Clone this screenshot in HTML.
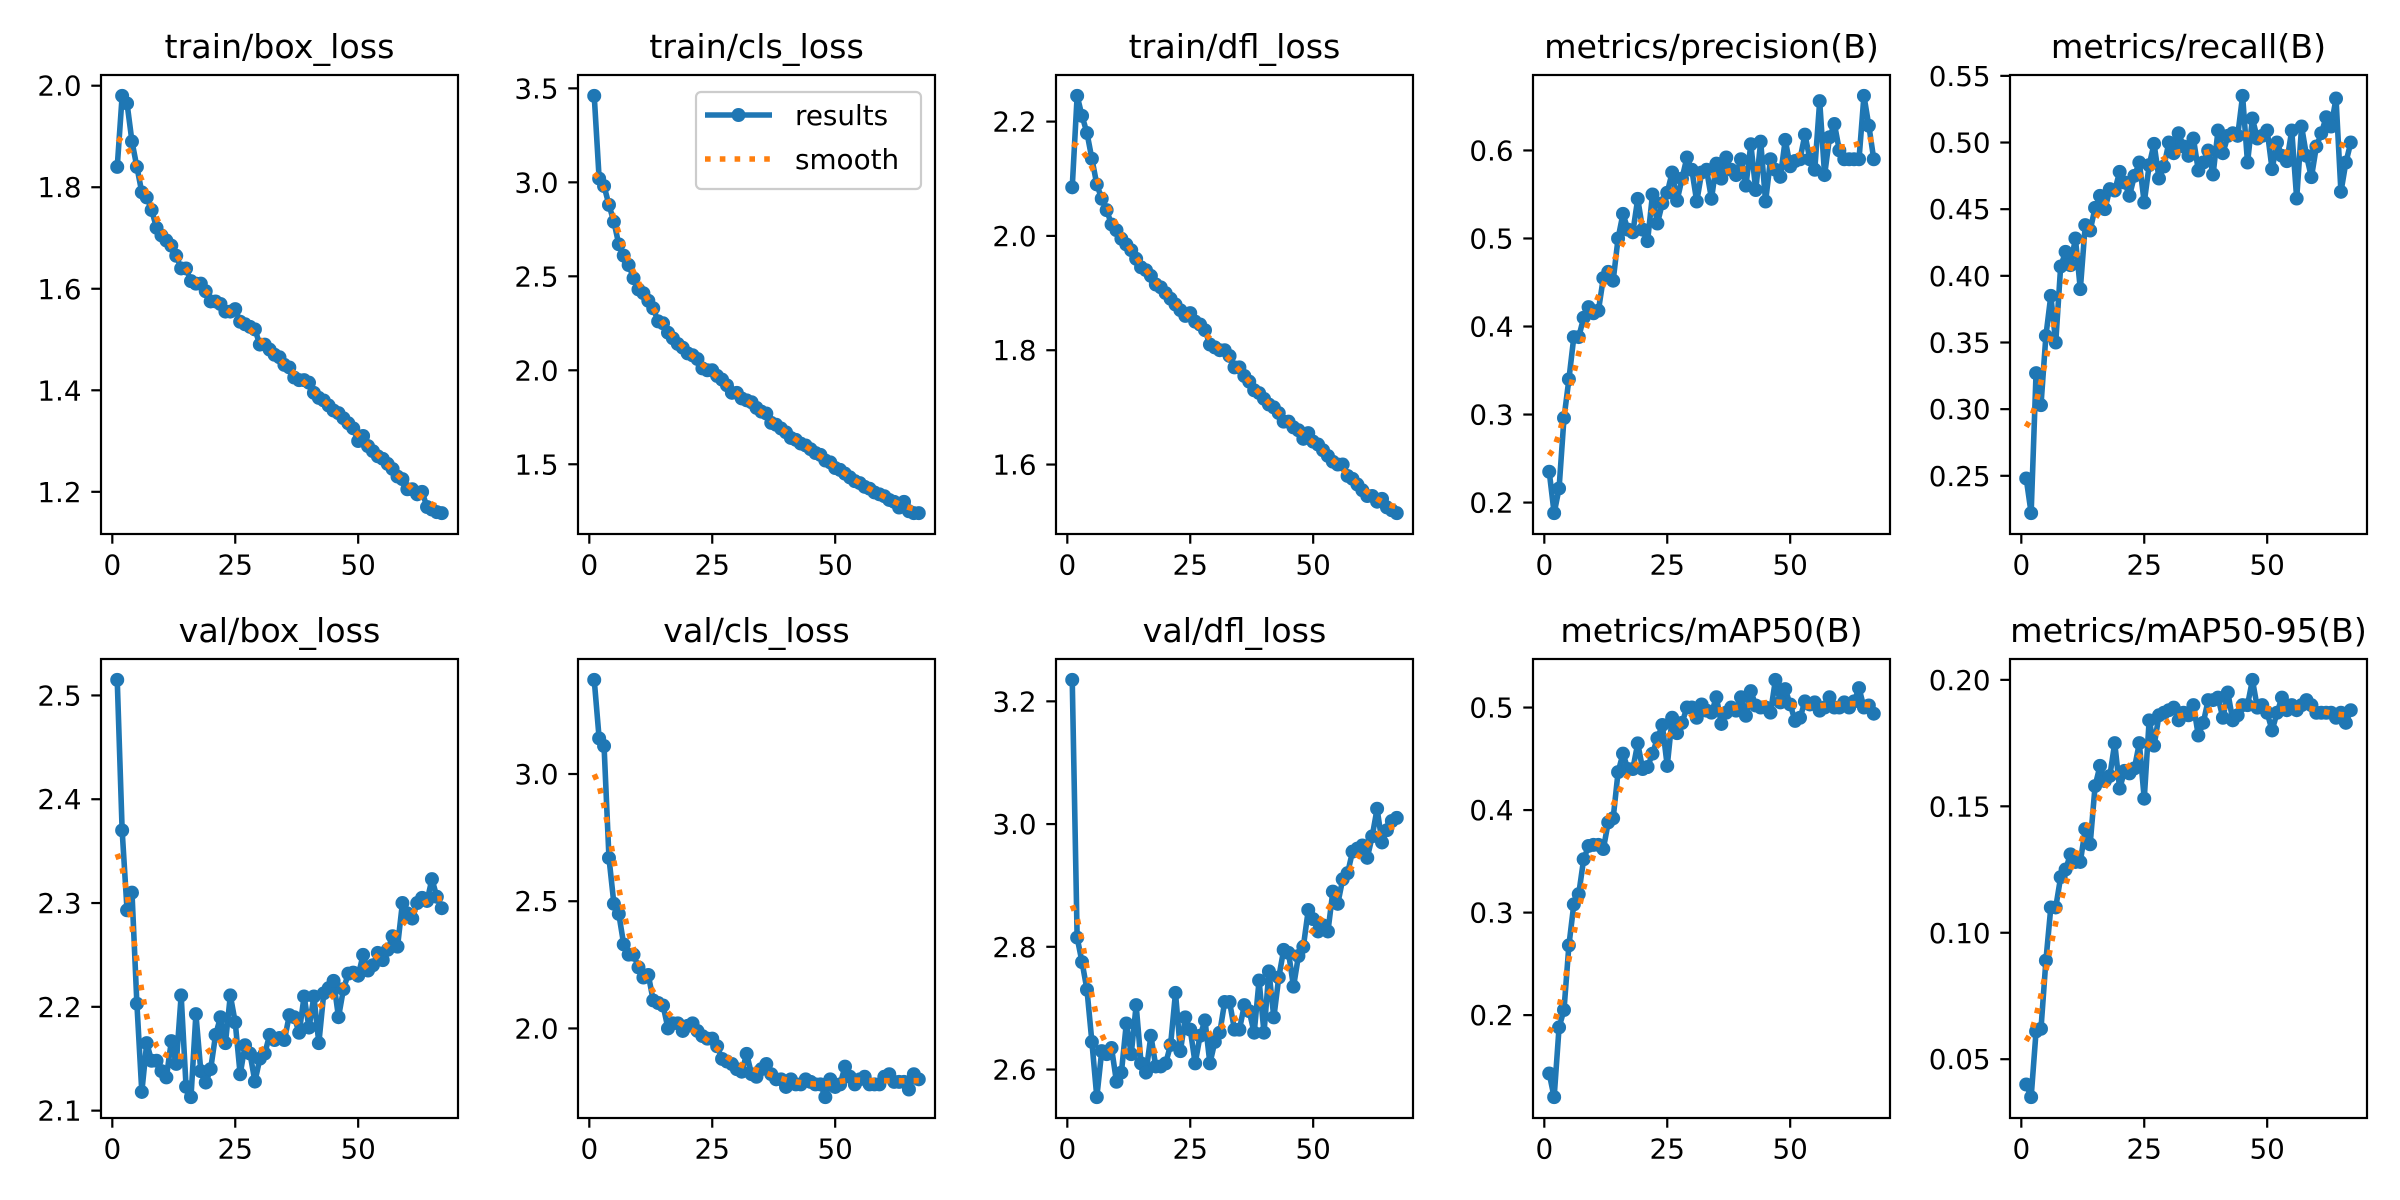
<!DOCTYPE html>
<html><head><meta charset="utf-8">
<style>
html,body{margin:0;padding:0;background:#fff;}
svg{display:block;}
text{font-family:"DejaVu Sans","Liberation Sans",sans-serif;fill:#000;}
</style></head>
<body>
<svg id="fig" xmlns="http://www.w3.org/2000/svg" width="2400" height="1200" viewBox="0 0 2400 1200">
<rect x="0" y="0" width="2400" height="1200" fill="#fff"/>
</svg>
<script>
const epochs = Array.from({length:67},(_, i)=>i+1);
const xTicks = [0,25,50];
const titles = ["train/box_loss","train/cls_loss","train/dfl_loss","metrics/precision(B)","metrics/recall(B)",
"val/box_loss","val/cls_loss","val/dfl_loss","metrics/mAP50(B)","metrics/mAP50-95(B)"];
const trainBox = [1.84,1.98,1.965,1.89,1.84,1.79,1.78,1.755,1.72,1.705,
1.695,1.685,1.665,1.64,1.64,1.615,1.61,1.61,1.595,1.575,
1.575,1.57,1.555,1.555,1.56,1.535,1.53,1.525,1.52,1.49,
1.49,1.48,1.47,1.465,1.45,1.445,1.425,1.42,1.42,1.415,
1.395,1.385,1.38,1.37,1.36,1.355,1.345,1.335,1.325,1.30,
1.31,1.29,1.28,1.27,1.265,1.255,1.245,1.23,1.225,1.205,
1.205,1.195,1.2,1.17,1.165,1.16,1.158];
const trainCls = [3.46,3.02,2.98,2.88,2.79,2.67,2.61,2.56,2.49,2.43,
2.41,2.37,2.33,2.26,2.25,2.2,2.17,2.14,2.12,2.09,
2.08,2.06,2.01,2.0,2.0,1.97,1.95,1.92,1.88,1.88,
1.85,1.84,1.83,1.8,1.78,1.77,1.72,1.71,1.69,1.67,
1.64,1.63,1.61,1.6,1.58,1.56,1.55,1.52,1.51,1.48,
1.47,1.45,1.43,1.41,1.4,1.38,1.37,1.35,1.34,1.33,
1.31,1.3,1.27,1.3,1.25,1.24,1.24];
const trainDfl = [2.085,2.245,2.21,2.18,2.135,2.09,2.065,2.045,2.02,2.01,
1.995,1.985,1.975,1.96,1.945,1.94,1.93,1.915,1.91,1.9,
1.89,1.88,1.87,1.86,1.865,1.85,1.845,1.835,1.81,1.805,
1.8,1.8,1.79,1.77,1.77,1.755,1.745,1.73,1.725,1.715,
1.705,1.7,1.69,1.675,1.675,1.665,1.66,1.645,1.655,1.64,
1.635,1.625,1.615,1.605,1.6,1.6,1.58,1.575,1.565,1.555,
1.545,1.545,1.535,1.54,1.525,1.52,1.515];
const precision = [0.235,0.188,0.216,0.296,0.34,0.388,0.388,0.41,0.422,0.415,
0.418,0.455,0.462,0.452,0.5,0.528,0.51,0.507,0.545,0.51,
0.497,0.55,0.517,0.54,0.552,0.575,0.543,0.568,0.592,0.578,
0.542,0.575,0.578,0.545,0.585,0.568,0.592,0.578,0.572,0.59,
0.56,0.607,0.555,0.61,0.542,0.59,0.578,0.57,0.612,0.582,
0.588,0.59,0.618,0.59,0.578,0.656,0.572,0.615,0.63,0.6,
0.59,0.59,0.59,0.59,0.662,0.628,0.59];
const recall = [0.248,0.222,0.327,0.303,0.355,0.385,0.35,0.407,0.418,0.408,
0.428,0.39,0.438,0.434,0.451,0.46,0.45,0.465,0.464,0.478,
0.47,0.46,0.475,0.485,0.455,0.483,0.499,0.473,0.482,0.5,
0.492,0.507,0.497,0.49,0.503,0.479,0.485,0.494,0.476,0.509,
0.492,0.505,0.507,0.505,0.535,0.485,0.518,0.503,0.505,0.509,
0.48,0.5,0.49,0.486,0.509,0.458,0.512,0.49,0.474,0.497,
0.507,0.519,0.512,0.533,0.463,0.485,0.5];
const valBox = [2.515,2.37,2.293,2.31,2.203,2.118,2.165,2.148,2.148,2.138,
2.132,2.167,2.145,2.211,2.123,2.113,2.193,2.138,2.127,2.14,
2.173,2.19,2.165,2.211,2.185,2.135,2.163,2.155,2.128,2.15,
2.155,2.173,2.168,2.17,2.168,2.192,2.19,2.175,2.21,2.18,
2.21,2.165,2.213,2.218,2.225,2.19,2.217,2.232,2.233,2.23,
2.25,2.235,2.24,2.252,2.245,2.255,2.268,2.258,2.3,2.29,
2.285,2.3,2.305,2.302,2.323,2.306,2.295];
const valCls = [3.37,3.14,3.11,2.67,2.49,2.45,2.33,2.29,2.29,2.24,
2.2,2.21,2.11,2.1,2.09,2.0,2.02,2.02,1.99,2.01,
2.02,1.99,1.97,1.96,1.96,1.93,1.88,1.87,1.86,1.84,
1.83,1.9,1.82,1.81,1.84,1.86,1.82,1.8,1.8,1.77,
1.8,1.78,1.78,1.8,1.79,1.78,1.78,1.73,1.8,1.77,
1.78,1.85,1.81,1.78,1.8,1.81,1.78,1.78,1.78,1.81,
1.82,1.79,1.79,1.79,1.76,1.82,1.8];
const valDfl = [3.235,2.815,2.775,2.73,2.645,2.555,2.63,2.625,2.635,2.58,
2.595,2.675,2.625,2.705,2.61,2.595,2.655,2.605,2.605,2.61,
2.64,2.725,2.63,2.685,2.665,2.61,2.655,2.68,2.61,2.645,
2.66,2.71,2.71,2.665,2.665,2.705,2.695,2.66,2.745,2.66,
2.76,2.685,2.75,2.795,2.79,2.735,2.785,2.8,2.86,2.845,
2.825,2.835,2.825,2.89,2.87,2.91,2.92,2.955,2.96,2.965,
2.945,2.98,3.025,2.97,2.99,3.005,3.01];
const map50 = [0.143,0.12,0.188,0.205,0.268,0.308,0.318,0.352,0.365,0.366,
0.366,0.362,0.388,0.392,0.437,0.455,0.44,0.44,0.465,0.44,
0.442,0.455,0.47,0.483,0.443,0.49,0.475,0.485,0.5,0.5,
0.49,0.503,0.497,0.495,0.51,0.484,0.495,0.5,0.497,0.51,
0.492,0.516,0.502,0.5,0.5,0.495,0.527,0.505,0.518,0.503,
0.487,0.49,0.506,0.503,0.505,0.497,0.5,0.51,0.5,0.5,
0.505,0.5,0.506,0.519,0.5,0.502,0.494];
const map5095 = [0.04,0.035,0.061,0.062,0.089,0.11,0.11,0.122,0.125,0.131,
0.128,0.128,0.141,0.135,0.158,0.166,0.16,0.162,0.175,0.157,
0.164,0.163,0.165,0.175,0.153,0.184,0.174,0.186,0.187,0.188,
0.189,0.184,0.187,0.186,0.19,0.178,0.183,0.192,0.192,0.193,
0.185,0.195,0.184,0.186,0.19,0.19,0.2,0.189,0.19,0.187,
0.18,0.187,0.193,0.188,0.19,0.188,0.19,0.192,0.19,0.187,
0.187,0.187,0.187,0.185,0.187,0.183,0.188];
const yTicks1 = [1.2,1.4,1.6,1.8,2.0];
const yTicks2 = [1.5,2.0,2.5,3.0,3.5];
const yTicks3 = [1.6,1.8,2.0,2.2];
const yTicks4 = [0.2,0.3,0.4,0.5,0.6];
const yTicks5 = [0.25,0.30,0.35,0.40,0.45,0.50,0.55];
const yTicks6 = [2.1,2.2,2.3,2.4,2.5];
const yTicks7 = [2.0,2.5,3.0];
const yTicks8 = [2.6,2.8,3.0,3.2];
const yTicks9 = [0.2,0.3,0.4,0.5];
const yTicks10 = [0.05,0.10,0.15,0.20];

const series = [trainBox,trainCls,trainDfl,precision,recall,valBox,valCls,valDfl,map50,map5095];
const ticksets = [yTicks1,yTicks2,yTicks3,yTicks4,yTicks5,yTicks6,yTicks7,yTicks8,yTicks9,yTicks10];
const decs = [1,1,1,1,2,1,1,1,1,2];
const slugs = ["train-box-loss","train-cls-loss","train-dfl-loss","precision","recall","val-box-loss","val-cls-loss","val-dfl-loss","map50","map50-95"];

const NS = "http://www.w3.org/2000/svg";
const fig = document.getElementById('fig');
function mk(tag, attrs, parent){ const e=document.createElementNS(NS,tag); for(const k in attrs) e.setAttribute(k,attrs[k]); (parent||fig).appendChild(e); return e; }

function gauss(y, sigma){
  const r = Math.round(4*sigma); const w=[]; let s=0;
  for(let i=-r;i<=r;i++){const v=Math.exp(-0.5*i*i/(sigma*sigma)); w.push(v); s+=v;}
  const n=y.length; const out=[];
  const idx = j => { while(j<0||j>=n){ if(j<0) j=-j-1; if(j>=n) j=2*n-j-1; } return j; };
  for(let i=0;i<n;i++){ let a=0; for(let k=-r;k<=r;k++) a+=w[k+r]*y[idx(i+k)]; out.push(a/s); }
  return out;
}

const W = 357, H = 459;
const lefts = [101,578,1056,1533,2010];
const tops = [75,659];
const FS = 27.8;

series.forEach((ys, si) => {
  const col = si%5, row = Math.floor(si/5);
  const L = lefts[col], T = tops[row];
  const g = mk('g', {});
  
  
  const sm = gauss(ys, 3);
  const all = ys.concat(sm);
  let mn = Math.min(...all), mx = Math.max(...all);
  const pad = (mx-mn)*0.05; mn-=pad; mx+=pad;
  const x0 = 1 - 0.05*66, x1 = 67 + 0.05*66;
  const sx = v => L + (v-x0)/(x1-x0)*W;
  const sy = v => T + H - (v-mn)/(mx-mn)*H;

  const clipId = 'clip'+si;
  const cp = mk('clipPath', {id:clipId}, g);
  mk('rect', {x:L, y:T, width:W, height:H}, cp);

  // results line
  const pts = ys.map((v,i)=>sx(epochs[i]).toFixed(2)+','+sy(v).toFixed(2)).join(' ');
  const pl = mk('polyline', {points:pts, fill:'none', stroke:'#1f77b4', 'stroke-width':5.6, 'stroke-linejoin':'round', 'stroke-linecap':'butt', 'clip-path':'url(#'+clipId+')'}, g);
  
  
  ys.forEach((v,i)=>{
    const c = mk('circle', {cx:sx(epochs[i]), cy:sy(v), r:7, fill:'#1f77b4', 'clip-path':'url(#'+clipId+')'}, g);
    
    
  });
  // smooth line
  const spts = sm.map((v,i)=>sx(epochs[i]).toFixed(2)+','+sy(v).toFixed(2)).join(' ');
  const sl = mk('polyline', {points:spts, fill:'none', stroke:'#ff7f0e', 'stroke-width':5.6, 'stroke-dasharray':'5.6 9.2', 'clip-path':'url(#'+clipId+')'}, g);
  
  

  // frame
  const fr = mk('rect', {x:L, y:T, width:W, height:H, fill:'none', stroke:'#000', 'stroke-width':2.2}, g);
  
  

  // x ticks
  xTicks.forEach(t=>{
    const x = sx(t);
    mk('line', {x1:x, y1:T+H, x2:x, y2:T+H+9.7, stroke:'#000', 'stroke-width':2.2}, g);
    const tx = mk('text', {x:x, y:T+H+19.4+FS*0.76, 'font-size':FS, 'text-anchor':'middle'}, g);
    tx.textContent = String(t);
    
    
  });
  // y ticks
  ticksets[si].forEach(t=>{
    if (t < mn || t > mx) return;
    const y = sy(t);
    mk('line', {x1:L-9.7, y1:y, x2:L, y2:y, stroke:'#000', 'stroke-width':2.2}, g);
    const ty = mk('text', {x:L-19.4, y:y+FS*0.36, 'font-size':FS, 'text-anchor':'end'}, g);
    ty.textContent = t.toFixed(decs[si]);
    
    
  });
  // title
  const tt = mk('text', {x:L+W/2, y:T-17, 'font-size':33.3, 'text-anchor':'middle'}, g);
  tt.textContent = titles[si];
  
  
});

// legend in train/cls_loss subplot
const lg = mk('g', {});


mk('rect', {x:696, y:92, width:225, height:97, rx:5, ry:5, fill:'#fff', 'fill-opacity':0.8, stroke:'#cccccc', 'stroke-width':2.2}, lg);
mk('line', {x1:705, y1:115, x2:772, y2:115, stroke:'#1f77b4', 'stroke-width':5.6}, lg);
mk('circle', {cx:738.5, cy:115, r:7, fill:'#1f77b4'}, lg);
const l1 = mk('text', {x:795, y:115+FS*0.36, 'font-size':FS}, lg);
l1.textContent = 'results';


mk('line', {x1:705, y1:159, x2:772, y2:159, stroke:'#ff7f0e', 'stroke-width':5.6, 'stroke-dasharray':'5.6 9.2'}, lg);
const l2 = mk('text', {x:795, y:159+FS*0.36, 'font-size':FS}, lg);
l2.textContent = 'smooth';


</script>
</body></html>
